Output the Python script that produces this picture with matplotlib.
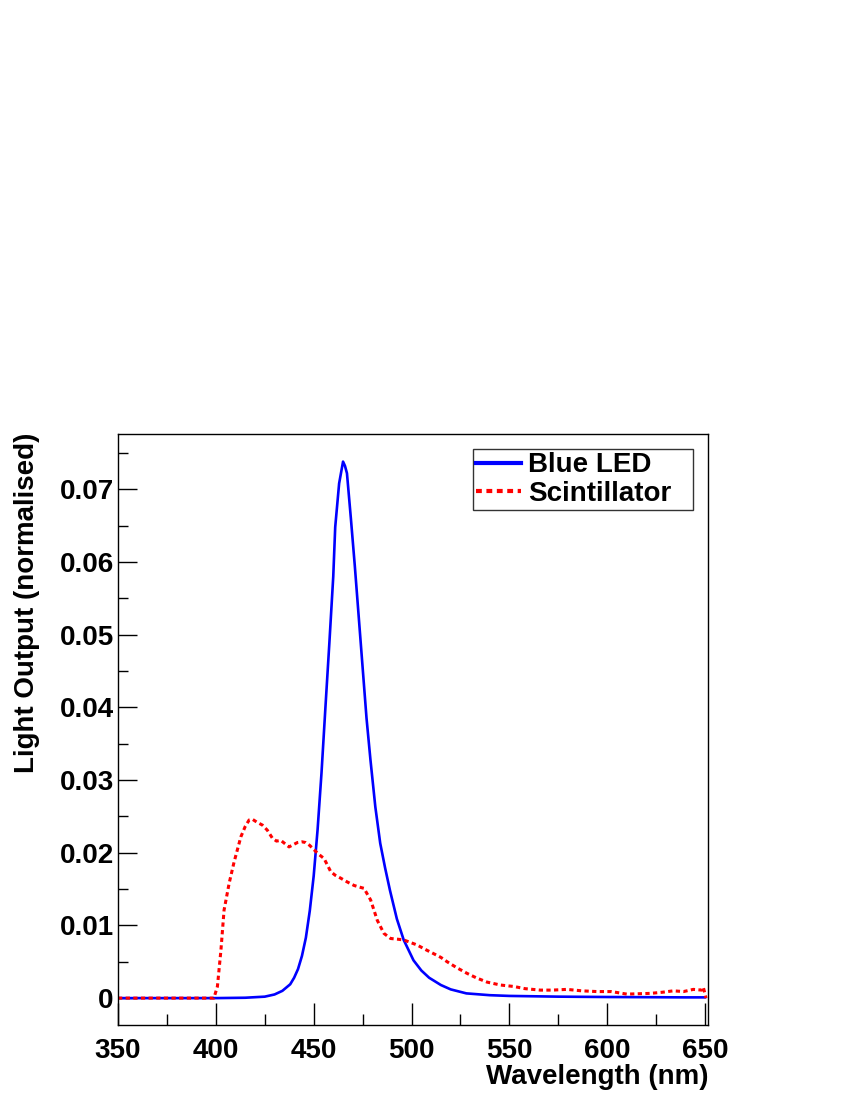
import matplotlib
matplotlib.use("Agg")
import matplotlib.pyplot as plt
from matplotlib.ticker import MultipleLocator, FixedLocator

plt.rcParams['font.family'] = ['Liberation Sans', 'DejaVu Sans']

# Blue LED spectrum
led_wl = [350, 380, 400, 415, 425, 430, 434, 438, 440, 442, 444, 446, 448, 450, 452,
          454, 456, 458, 460, 461, 463, 465, 466, 467, 469, 471, 474, 477, 479, 481.5,
          484, 486.5, 489, 492.5, 496, 501, 505, 509, 515, 520, 528, 540, 550, 575,
          600, 625, 640, 650]
led_val = [0.0, 0.0, 0.0, 0.00005, 0.0002, 0.0005, 0.0010, 0.0019, 0.0028, 0.0040,
           0.0058, 0.0083, 0.0120, 0.0168, 0.0232, 0.0310, 0.0400, 0.0488, 0.0580,
           0.0648, 0.0708, 0.0738, 0.0732, 0.0722, 0.0660, 0.0595, 0.0490, 0.0385,
           0.0328, 0.0263, 0.0213, 0.0179, 0.0148, 0.0109, 0.0080, 0.0052, 0.0038,
           0.0028, 0.0018, 0.0012, 0.00065, 0.0004, 0.0003, 0.0002, 0.00015, 0.00012,
           0.0001, 0.0001]

# Scintillator spectrum
sc_wl = [350, 380, 399, 400.8, 402.6, 404.2, 406.8, 409.3, 412.8, 415, 417, 418.7,
         421, 423.8, 426.3, 428.9, 431, 433.2, 435.5, 437.4, 439.5, 441.7, 444,
         445.9, 448, 450.2, 452.5, 455.3, 458.7, 461, 463.8, 467, 470.6, 473,
         475.7, 479.1, 482.5, 485.9, 489.3, 493, 496, 499, 502.9, 507, 511.4, 515,
         518.2, 523, 528.4, 533, 538.6, 545.4, 552.2, 558, 565.8, 572, 579.4, 587,
         594.7, 602, 610, 616, 622, 628, 633.8, 639, 644, 648.3, 649.1, 650.5]
sc_val = [0.0, 0.0, 0.0, 0.0016, 0.0066, 0.0121, 0.0158, 0.0187, 0.0222, 0.0236,
          0.0245, 0.0246, 0.0242, 0.0238, 0.0231, 0.0220, 0.0216, 0.0217, 0.0212,
          0.0208, 0.0211, 0.0214, 0.0215, 0.0214, 0.0210, 0.0204, 0.0198, 0.0192,
          0.0174, 0.0169, 0.0165, 0.0160, 0.0155, 0.0153, 0.0151, 0.0135, 0.0107,
          0.0089, 0.0082, 0.0081, 0.0080, 0.0077, 0.0073, 0.0067, 0.0061, 0.0056,
          0.0050, 0.0042, 0.0034, 0.0028, 0.0022, 0.0018, 0.0016, 0.0013, 0.0011,
          0.0011, 0.0012, 0.0010, 0.0009, 0.0009, 0.00055, 0.0006, 0.00065, 0.0008,
          0.0010, 0.0009, 0.0012, 0.0011, 0.0015, 0.0]

xticks = [350, 400, 450, 500, 550, 600, 650]
yticks = [0, 0.01, 0.02, 0.03, 0.04, 0.05, 0.06, 0.07]
ytick_labels = ['0', '0.01', '0.02', '0.03', '0.04', '0.05', '0.06', '0.07']

FS = 20

fig = plt.figure(figsize=(8.5, 11), dpi=100)
ax = fig.add_axes([118 / 850, 1 - 1025 / 1100, (708 - 118) / 850, (1025 - 434) / 1100])

ax.plot(led_wl, led_val, color='#0000ff', lw=1.9, label='Blue LED')
ax.plot(sc_wl, sc_val, color='#ff0000', lw=2.2, linestyle=(0, (1.4, 1.1)), label='Scintillator')

ax.set_xlim(350, 651.5)
ax.set_ylim(-0.0037, 0.0776)

ax.xaxis.set_major_locator(FixedLocator(xticks))
ax.xaxis.set_minor_locator(MultipleLocator(25))
ax.yaxis.set_major_locator(FixedLocator(yticks))
ax.yaxis.set_minor_locator(MultipleLocator(0.005))
ax.set_xticklabels([str(t) for t in xticks])
ax.set_yticklabels(ytick_labels)

ax.tick_params(axis='both', which='both', direction='in', top=False, right=False,
               width=1, color='black')
ax.tick_params(axis='x', which='major', length=16, pad=9)
ax.tick_params(axis='x', which='minor', length=8)
ax.tick_params(axis='y', which='major', length=14, pad=3)
ax.tick_params(axis='y', which='minor', length=7)
for lab in ax.get_xticklabels() + ax.get_yticklabels():
    lab.set_fontsize(FS)
    lab.set_fontweight('bold')

for sp in ax.spines.values():
    sp.set_linewidth(1)

fig.text(708 / 850, 1 - 1084 / 1100, 'Wavelength (nm)', ha='right', va='baseline',
         fontsize=FS, fontweight='bold')
fig.text(27 / 850, 1 - 433 / 1100, 'Light Output (normalised)', ha='center', va='top',
         rotation=90, fontsize=FS, fontweight='bold')

lx0 = (473 - 118) / 590
lx1 = (693 - 118) / 590
ly1 = 1 - (449 - 434) / 591
ly0 = 1 - (508 - 434) / 591
leg = ax.legend(loc='upper left', bbox_to_anchor=(lx0, ly0, lx1 - lx0, ly1 - ly0),
                mode='expand', frameon=True, fancybox=False, edgecolor='black',
                prop={'weight': 'bold', 'size': FS}, handlelength=1.6, handletextpad=0.25,
                borderpad=0.12, labelspacing=0.1, borderaxespad=0)
leg.get_frame().set_linewidth(1)
leg.get_lines()[0].set_linewidth(3)
leg.get_lines()[1].set_linewidth(3)

fig.savefig('out.png', dpi=100)
